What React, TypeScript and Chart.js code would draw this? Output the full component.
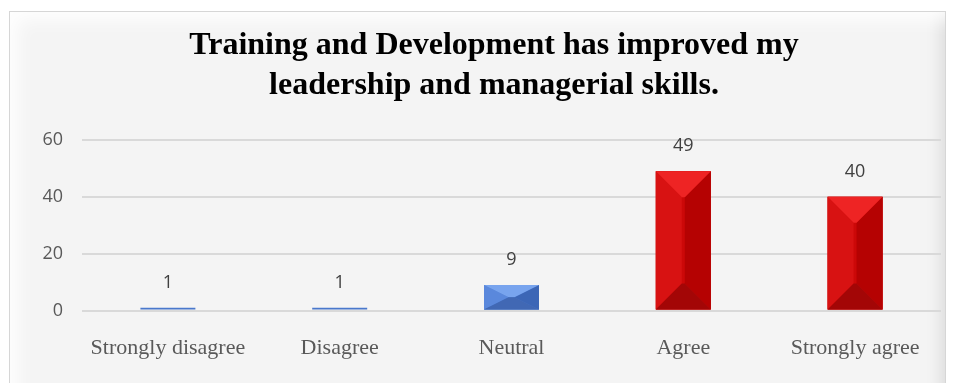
import React, { useEffect, useRef } from "react";
import { Chart, registerables } from "chart.js";

Chart.register(...registerables);

const categories = ["Strongly disagree", "Disagree", "Neutral", "Agree", "Strongly agree"];
const counts = [1, 1, 9, 49, 40];
const titleLines = ["Training and Development has improved my", "leadership and managerial skills."];
const barKinds = ["blue", "blue", "blue", "red", "red"];

const palettes: Record<string, { base: string; top: string; left: string; right: string; bottom: string }> = {
  red: { base: "#cc0808", top: "#ee2424", left: "#d81212", right: "#b50202", bottom: "#a30606" },
  blue: { base: "#4a78cc", top: "#78a4ee", left: "#5a88dc", right: "#3c66b6", bottom: "#4168b4" },
};

const TITLE_FONT = "bold 32px 'Liberation Serif', 'Times New Roman', serif";

const bevelPlugin = {
  id: "bevel",
  afterDatasetsDraw(chart: any) {
    const ctx = chart.ctx;
    const meta = chart.getDatasetMeta(0);
    meta.data.forEach((bar: any, i: number) => {
      const p = palettes[barKinds[i]];
      const w = bar.width;
      const x0 = bar.x - w / 2;
      const x1 = bar.x + w / 2;
      const y0 = bar.y;
      const y1 = bar.base;
      const h = y1 - y0;
      if (h < 4) return;
      const bx = Math.min(w * 0.48, 26, h);
      const by = Math.min(bx, h / 2);
      ctx.save();
      const poly = (pts: number[][], c: string) => {
        ctx.beginPath();
        ctx.moveTo(pts[0][0], pts[0][1]);
        for (let k = 1; k < pts.length; k++) ctx.lineTo(pts[k][0], pts[k][1]);
        ctx.closePath();
        ctx.fillStyle = c;
        ctx.fill();
      };
      poly([[x0, y0], [x1, y0], [x1, y1], [x0, y1]], p.base);
      poly([[x0, y0], [x0 + bx, y0 + by], [x0 + bx, y1 - by], [x0, y1]], p.left);
      poly([[x1, y0], [x1 - bx, y0 + by], [x1 - bx, y1 - by], [x1, y1]], p.right);
      poly([[x0, y0], [x1, y0], [x1 - bx, y0 + by], [x0 + bx, y0 + by]], p.top);
      poly([[x0, y1], [x1, y1], [x1 - bx, y1 - by], [x0 + bx, y1 - by]], p.bottom);
      ctx.restore();
    });
  },
};

const labelPlugin = {
  id: "valueLabels",
  afterDatasetsDraw(chart: any) {
    const ctx = chart.ctx;
    const meta = chart.getDatasetMeta(0);
    ctx.save();
    ctx.font = "18px 'Open Sans', 'DejaVu Sans', sans-serif";
    ctx.fillStyle = "#404040";
    ctx.textAlign = "center";
    ctx.textBaseline = "middle";
    meta.data.forEach((bar: any, i: number) => {
      ctx.fillText(String(counts[i]), bar.x, bar.y - 25);
    });
    ctx.restore();
  },
};

const titlePlugin = {
  id: "manualTitle",
  afterDraw(chart: any) {
    const ctx = chart.ctx;
    ctx.save();
    ctx.font = TITLE_FONT;
    ctx.fillStyle = "#000000";
    ctx.textAlign = "center";
    ctx.textBaseline = "middle";
    titleLines.forEach((line, i) => {
      ctx.fillText(line, 484, 34 + i * 40);
    });
    ctx.restore();
  },
};

export default function App() {
  const ref = useRef<HTMLCanvasElement | null>(null);
  useEffect(() => {
    if (!ref.current) return;
    const chart = new Chart(ref.current, {
      type: "bar",
      data: {
        labels: categories,
        datasets: [
          {
            data: counts,
            backgroundColor: barKinds.map((k) => palettes[k].base),
            barPercentage: 0.64,
            categoryPercentage: 0.5,
          },
        ],
      },
      options: {
        animation: false,
        responsive: false,
        layout: { padding: { left: 0, right: 4, top: 0, bottom: 22 } },
        plugins: {
          legend: { display: false },
          tooltip: { enabled: false },
          title: {
            display: true,
            text: titleLines,
            color: "rgba(0,0,0,0)",
            font: { family: "'Liberation Serif', 'Times New Roman', serif", size: 32, weight: "bold", lineHeight: 1.25 },
            padding: { top: 14, bottom: 34 },
          },
        },
        scales: {
          x: {
            grid: { display: false, drawTicks: false },
            border: { display: false },
            ticks: {
              color: "#595959",
              padding: 24,
              font: { family: "'Liberation Serif', 'Times New Roman', serif", size: 22 },
              maxRotation: 0,
              autoSkip: false,
            },
          },
          y: {
            min: 0,
            max: 60,
            grid: { color: "#d9d9d9", lineWidth: 2, drawTicks: false },
            border: { display: false },
            ticks: {
              stepSize: 20,
              color: "#595959",
              padding: 19,
              font: { family: "'Open Sans', 'DejaVu Sans', sans-serif", size: 18 },
            },
            afterFit: (scale: any) => {
              scale.width = 72;
            },
          },
        },
      },
      plugins: [bevelPlugin, labelPlugin, titlePlugin],
    });
    return () => chart.destroy();
  }, []);

  return (
    <div
      style={{
        position: "relative",
        width: 935,
        height: 395,
        marginTop: 3,
        marginLeft: 1,
        background: "#f4f4f4",
        border: "1px solid #d6d6d6",
        boxShadow:
          "inset 22px 22px 18px -14px rgba(255,255,255,0.9), inset -16px -18px 16px -12px rgba(0,0,0,0.10)",
      }}
    >
      <canvas ref={ref} width={935} height={395} style={{ position: "absolute", left: 0, top: 0 }} />
    </div>
  );
}
